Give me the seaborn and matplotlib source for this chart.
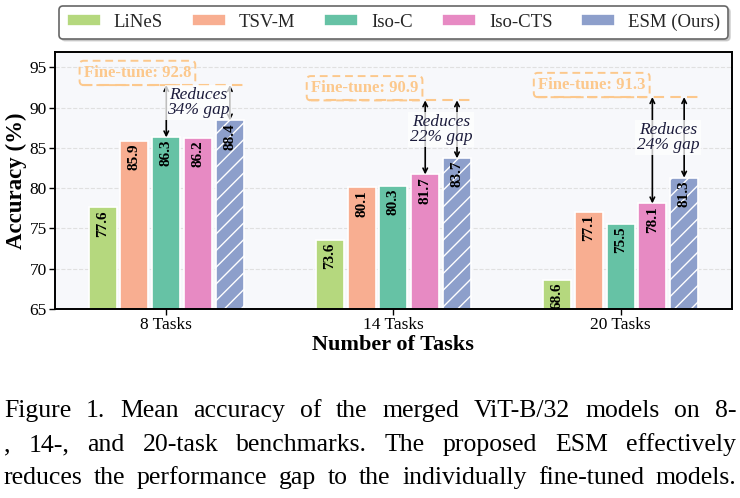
import numpy as np
import pandas as pd
import matplotlib
matplotlib.use("Agg")
import matplotlib.pyplot as plt
import seaborn as sns

# ---------------- data ----------------
tasks = ["8 Tasks", "14 Tasks", "20 Tasks"]
methods = ["LiNeS", "TSV-M", "Iso-C", "Iso-CTS", "ESM (Ours)"]
lines_acc = [77.6, 73.6, 68.6]
tsvm_acc = [85.9, 80.1, 77.1]
isoc_acc = [86.3, 80.3, 75.5]
isocts_acc = [86.2, 81.7, 78.1]
esm_acc = [88.4, 83.7, 81.3]
finetune_acc = [92.8, 90.9, 91.3]
best_baseline_idx = [2, 3, 3]          # Iso-C for 8 tasks, Iso-CTS otherwise
gap_text = ["Reduces\n34% gap", "Reduces\n22% gap", "Reduces\n24% gap"]
colors = ["#b5d87e", "#f8ae91", "#66c2a5", "#e78ac3", "#8d9fcb"]
caption_lines = [
    "Figure 1.  Mean accuracy of the merged ViT-B/32 models on 8-",
    ", 14-, and 20-task benchmarks.  The proposed ESM effectively",
    "reduces the performance gap to the individually fine-tuned models.",
]

values = [lines_acc, tsvm_acc, isoc_acc, isocts_acc, esm_acc]
df = pd.DataFrame(
    [(t, m, values[j][i]) for j, m in enumerate(methods) for i, t in enumerate(tasks)],
    columns=["tasks", "method", "acc"],
)

# ---------------- style ----------------
sns.set_theme(style="whitegrid")
plt.rcParams["font.family"] = ["Liberation Serif", "DejaVu Serif"]
plt.rcParams["hatch.linewidth"] = 1.0

fig = plt.figure(figsize=(7.4, 4.98), dpi=100)
ax = fig.add_axes([0.0743, 0.3795, 0.9147, 0.5161])
ax.set_facecolor("#f7f8fb")

sns.barplot(data=df, x="tasks", y="acc", hue="method", hue_order=methods,
            order=tasks, palette=colors, saturation=1, width=0.7, gap=0.12,
            edgecolor="white", linewidth=1.2, ax=ax, zorder=2)

for bar in ax.containers[4]:
    bar.set_hatch("//")
    bar.set_edgecolor("white")

ax.set_ylim(65, 96.9)
ax.set_xlim(-0.49, 2.49)
ax.set_yticks([65, 70, 75, 80, 85, 90, 95])
ax.grid(axis="y", linestyle="--", color="#e0e0e0", linewidth=0.8, zorder=0)
ax.grid(axis="x", visible=False)
for s in ax.spines.values():
    s.set_color("black")
    s.set_linewidth(1.4)
ax.tick_params(axis="both", which="both", length=4, width=1, color="black",
               labelsize=12.5, labelcolor="black", direction="out",
               bottom=True, left=True, pad=2)
ax.set_xlabel("Number of Tasks", fontsize=16, fontweight="bold", labelpad=1, color="black")
ax.set_ylabel("Accuracy (%)", fontsize=16.5, fontweight="bold", labelpad=2, color="black")

# value labels
for cont in ax.containers:
    for bar in cont:
        h = bar.get_height()
        ax.text(bar.get_x() + bar.get_width() / 2, h - 0.3, f"{h:.1f}",
                rotation=90, ha="center", va="top", fontsize=11,
                fontweight="bold", color="black", zorder=5)

orange = "#fcc88c"
for i in range(len(tasks)):
    ft = finetune_acc[i]
    ax.hlines(ft, i - 0.37, i + 0.355, colors=orange, linestyles=(0, (5, 3)),
              linewidth=1.5, zorder=3)
    ax.text(i - 0.127, ft + 1.5, f"Fine-tune: {ft}", ha="center", va="center",
            fontsize=12, fontweight="bold", color=orange, zorder=4,
            bbox=dict(boxstyle="round,pad=0.25", facecolor="none",
                      edgecolor=orange, linestyle=(0, (4, 2.5)), linewidth=1.4))
    b_bar = ax.containers[best_baseline_idx[i]][i]
    e_bar = ax.containers[4][i]
    xb = b_bar.get_x() + b_bar.get_width() / 2
    xe = e_bar.get_x() + e_bar.get_width() / 2
    for xx, top in [(xb, b_bar.get_height()), (xe, e_bar.get_height())]:
        ax.annotate("", xy=(xx, top), xytext=(xx, ft),
                    arrowprops=dict(arrowstyle="<->", color="black", lw=1.2,
                                    shrinkA=0, shrinkB=0, mutation_scale=8),
                    zorder=3)
    ax.text((xb + xe) / 2, (ft + e_bar.get_height()) / 2, gap_text[i],
            ha="center", va="center", fontsize=12.5, style="italic",
            color="#1c1c3c", linespacing=0.95, zorder=4,
            bbox=dict(boxstyle="square,pad=0.1", facecolor="white",
                      edgecolor="none", alpha=0.75))

# legend
handles, labels = ax.get_legend_handles_labels()
ax.get_legend().remove()
leg = fig.legend(handles, labels, loc="center", bbox_to_anchor=(0.532, 0.955),
                 ncol=5, fontsize=13.5, frameon=True, fancybox=True,
                 handlelength=1.8, handleheight=0.6, columnspacing=1.55,
                 handletextpad=0.7, borderpad=0.4, borderaxespad=0,
                 edgecolor="#666666", framealpha=1,
                 shadow={"ox": 1.5, "oy": -1.5, "color": "#aaaaaa"})
leg.get_frame().set_linewidth(1.2)
for h in leg.legend_handles:
    h.set_edgecolor("white")

# caption, justified
renderer = fig.canvas.get_renderer()
W, H = fig.get_size_inches() * fig.dpi
x0_px, x1_px = 4.0, 736.0
baselines = [417, 451, 484]
for li, line in enumerate(caption_lines):
    words = line.split()
    size = 18.5
    while True:
        texts = [fig.text(0, 1 - baselines[li] / H, w, fontsize=size, va="baseline",
                          ha="left", color="black") for w in words]
        widths = [t.get_window_extent(renderer).width for t in texts]
        gap = (x1_px - x0_px - sum(widths)) / (len(words) - 1)
        if gap >= 0.1 * size * fig.dpi / 72 or size < 12:
            break
        for t in texts:
            t.remove()
        size -= 0.25
    x = x0_px
    for t, w in zip(texts, widths):
        t.set_x(x / W)
        x += w + gap

fig.savefig("out.png", dpi=100)
